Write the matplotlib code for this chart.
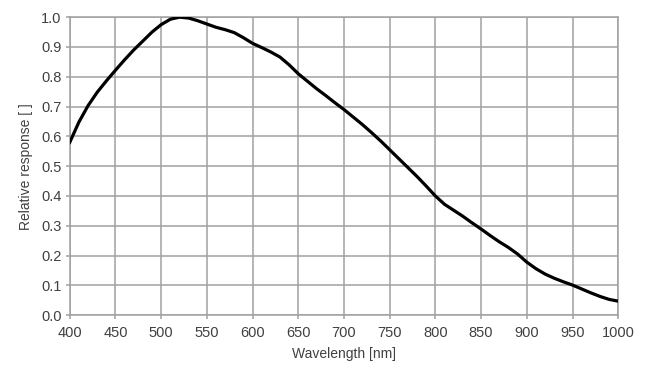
import numpy as np
import matplotlib
matplotlib.use("Agg")
import matplotlib.pyplot as plt

plt.rcParams['font.family'] = ['Liberation Sans', 'DejaVu Sans']

# wavelength in nm at 10 nm steps
wavelength = [400, 410, 420, 430, 440, 450, 460, 470, 480, 490,
              500, 510, 520, 530, 540, 550, 560, 570, 580, 590,
              600, 610, 620, 630, 640, 650, 660, 670, 680, 690,
              700, 710, 720, 730, 740, 750, 760, 770, 780, 790,
              800, 810, 820, 830, 840, 850, 860, 870, 880, 890,
              900, 910, 920, 930, 940, 950, 960, 970, 980, 990, 1000]
response = [0.580, 0.648, 0.703, 0.748, 0.786, 0.822, 0.857, 0.890, 0.920, 0.950,
            0.975, 0.993, 1.000, 0.997, 0.988, 0.977, 0.966, 0.958, 0.948, 0.931,
            0.912, 0.898, 0.883, 0.866, 0.840, 0.810, 0.785, 0.760, 0.737, 0.713,
            0.690, 0.665, 0.640, 0.613, 0.585, 0.555, 0.525, 0.495, 0.465, 0.433,
            0.400, 0.372, 0.352, 0.332, 0.310, 0.289, 0.267, 0.246, 0.227, 0.205,
            0.178, 0.156, 0.138, 0.124, 0.112, 0.101, 0.088, 0.075, 0.063, 0.053, 0.047]

xticks = np.arange(400, 1001, 50)
yticks = np.round(np.arange(0, 1.01, 0.1), 1)

fig = plt.figure(figsize=(6.46, 3.73), dpi=100)
ax = fig.add_axes([0.108, 0.155, 0.849, 0.799])

ax.plot(wavelength, response, color='black', lw=2.3, zorder=3)

ax.set_xlim(400, 1000)
ax.set_ylim(0, 1.0)
ax.set_xticks(xticks)
ax.set_yticks(yticks)
ax.set_yticklabels([f"{v:.1f}" for v in yticks])
ax.grid(True, color='#a0a0a0', lw=1.1)
for s in ax.spines.values():
    s.set_color('#a0a0a0')
    s.set_linewidth(1.1)
ax.tick_params(colors='#a0a0a0', labelcolor='#404040', labelsize=10.5, length=3, width=1.1)
ax.tick_params(axis='x', pad=5)
ax.tick_params(axis='y', pad=3)

ax.set_xlabel('Wavelength [nm]', fontsize=10, color='#404040', labelpad=5)
ax.set_ylabel('Relative response [ ]', fontsize=10, color='#404040', labelpad=6)

fig.savefig('out.png', dpi=100)
